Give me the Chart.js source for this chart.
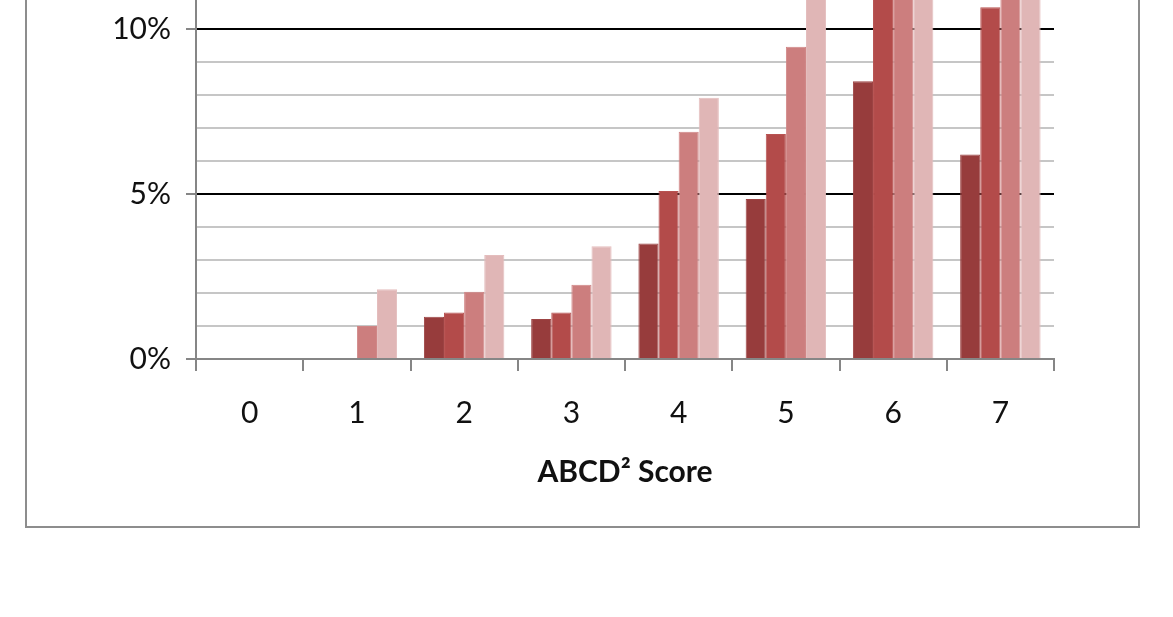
<!DOCTYPE html>
<html>
<head>
<meta charset="utf-8">
<script src="https://cdn.jsdelivr.net/npm/chart.js@4"></script>
<style>
  html, body { margin: 0; padding: 0; background: #fff; overflow: hidden; }
  body { width: 1173px; height: 617px; position: relative; }
  #frame {
    position: absolute; left: 25px; top: -20px; width: 1115px; height: 548px;
    box-sizing: border-box; border: 2px solid #8d8d8d;
  }
  #wrap { position: absolute; left: 0; top: -200px; width: 1173px; height: 800px; }
</style>
</head>
<body>
<div id="frame"></div>
<div id="wrap"><canvas id="riskChart"></canvas></div>
<script>
  // ABCD2 score categories
  const scores = ["0", "1", "2", "3", "4", "5", "6", "7"];

  // risk (%) per score, four series (values above ~10.9% are cut off in the source)
  const series1 = [0, 0, 1.28, 1.21, 3.5, 4.85, 8.42, 6.2];
  const series2 = [0, 0, 1.41, 1.41, 5.09, 6.82, 12.4, 10.66];
  const series3 = [0, 1.0, 2.04, 2.25, 6.89, 9.46, 13.6, 12.2];
  const series4 = [0, 2.11, 3.15, 3.42, 7.92, 11.6, 14.5, 13.8];

  const seriesColors = ["#973c3c", "#b34b4a", "#cc7e7e", "#e0b6b6"];
  const seriesBorders = ["#9d4444", "#b85352", "#d08585", "#e4bdbd"];

  const yMax = 15;
  const majorStep = 5;

  const fontFamily = "Lato, 'Open Sans', sans-serif";

  function makeSet(label, data, i) {
    return {
      label: label,
      data: data,
      backgroundColor: seriesColors[i],
      borderColor: seriesBorders[i],
      borderWidth: 1
    };
  }

  const ctx = document.getElementById("riskChart").getContext("2d");
  new Chart(ctx, {
    type: "bar",
    data: {
      labels: scores,
      datasets: [
        makeSet("Series 1", series1, 0),
        makeSet("Series 2", series2, 1),
        makeSet("Series 3", series3, 2),
        makeSet("Series 4", series4, 3)
      ]
    },
    options: {
      responsive: true,
      maintainAspectRatio: false,
      animation: false,
      layout: { padding: { left: 0, right: 119, top: 64, bottom: 106 } },
      plugins: {
        legend: { display: false },
        tooltip: { enabled: false }
      },
      datasets: {
        bar: { categoryPercentage: 0.75, barPercentage: 1.0 }
      },
      scales: {
        x: {
          afterFit: function (scale) { scale.height = 135; },
          grid: {
            offset: true,
            drawOnChartArea: false,
            tickLength: 12,
            tickColor: "#868686",
            lineWidth: 2
          },
          border: { color: "#868686", width: 2 },
          ticks: {
            color: "#111111",
            padding: 24,
            font: { family: fontFamily, size: 30 }
          },
          title: {
            display: true,
            text: "ABCD\u00B2 Score",
            color: "#111111",
            padding: { top: 0, bottom: 4 },
            font: { family: fontFamily, size: 30, weight: "bold" }
          }
        },
        y: {
          min: 0,
          max: yMax,
          afterFit: function (scale) { scale.width = 196; },
          ticks: {
            stepSize: 1,
            autoSkip: false,
            padding: 15,
            color: "#111111",
            font: { family: fontFamily, size: 30 },
            callback: function (v) { return v % majorStep === 0 ? v + "%" : ""; }
          },
          grid: {
            tickLength: 10,
            lineWidth: 2,
            color: function (c) {
              const v = c.tick.value;
              if (v === 0) return "#868686";
              return v % majorStep === 0 ? "#000000" : "#c6c6c6";
            },
            tickColor: function (c) {
              return c.tick.value % majorStep === 0 ? "#868686" : "rgba(0,0,0,0)";
            }
          },
          border: { color: "#868686", width: 2 }
        }
      }
    }
  });
</script>
</body>
</html>
